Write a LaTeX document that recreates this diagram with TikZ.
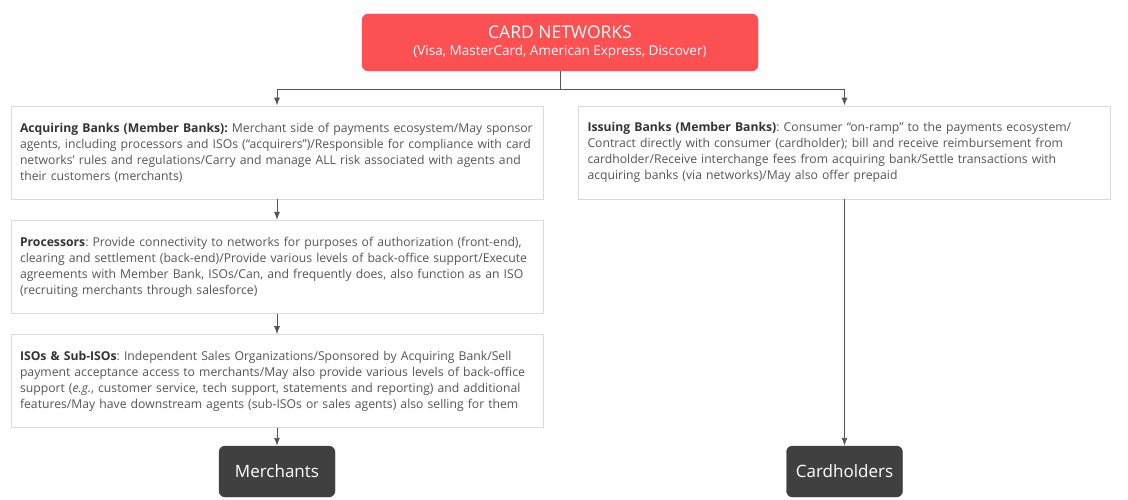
\documentclass[tikz,border=0pt]{standalone}
\usepackage{fontspec}
\setmainfont{Open Sans}
\usepackage{xcolor}
\usetikzlibrary{arrows.meta,positioning,calc}
\frenchspacing

\definecolor{netred}{HTML}{FC5053}
\definecolor{endgray}{HTML}{404040}
\definecolor{rimgray}{HTML}{DADADA}
\definecolor{bodytext}{HTML}{555555}
\definecolor{headtext}{HTML}{333333}
\definecolor{wire}{HTML}{555555}

\begin{document}
\begin{tikzpicture}[
  x=1pt, y=1pt,
  netbox/.style={draw=netred, fill=netred, rounded corners=6pt,
                 minimum width=396pt, minimum height=57pt,
                 text=white, align=center},
  infobox/.style={draw=rimgray, fill=white, line width=0.8pt,
                  minimum width=532pt, minimum height=93pt,
                  text width=514pt, inner xsep=9pt, align=left,
                  text=bodytext, font=\fontsize{12.2}{16}\selectfont},
  endbox/.style={draw=endgray, fill=endgray, rounded corners=6pt,
                 minimum width=116pt, minimum height=51pt,
                 text=white, font=\fontsize{17}{20}\selectfont},
  link/.style={draw=wire, line width=0.9pt},
  >={Latex[length=8pt,width=6pt]}, node distance=20.5pt
]
\useasboundingbox (0,0) rectangle (1128,-500);

\node[netbox] (networks) at (560,-42.5)
  {{\fontsize{17.5}{20}\selectfont CARD NETWORKS}\\[5pt]
   {\fontsize{13.5}{15}\selectfont (Visa, MasterCard, American Express, Discover)}};

\node[infobox] (acquiring) at (277,-152.5)
  {{\bfseries\color{headtext}Acquiring Banks (Member Banks):} Merchant side of payments ecosystem/May sponsor\\
   agents, including processors and ISOs (“acquirers”)/Responsible for compliance with card\\
   networks’ rules and regulations/Carry and manage ALL risk associated with agents and\\
   their customers (merchants)};
\node[infobox] (processors) [below=of acquiring]
  {{\bfseries\color{headtext}Processors}: Provide connectivity to networks for purposes of authorization (front-end),\\
   clearing and settlement (back-end)/Provide various levels of back-office support/Execute\\
   agreements with Member Bank, ISOs/Can, and frequently does, also function as an ISO\\
   (recruiting merchants through salesforce)};
\node[infobox] (isos) [below=of processors]
  {{\bfseries\color{headtext}ISOs \& Sub-ISOs}: Independent Sales Organizations/Sponsored by Acquiring Bank/Sell\\
   payment acceptance access to merchants/May also provide various levels of back-office\\
   support (\textit{e.g.}, customer service, tech support, statements and reporting) and additional\\
   features/May have downstream agents (sub-ISOs or sales agents) also selling for them};
\node[endbox] (merchants) at (277,-471.5) {Merchants};

\node[infobox] (issuing) at (844.5,-152.5)
  {{\bfseries\color{headtext}Issuing Banks (Member Banks)}: Consumer “on-ramp” to the payments ecosystem/\\
   Contract directly with consumer (cardholder); bill and receive reimbursement from\\
   cardholder/Receive interchange fees from acquiring bank/Settle transactions with\\
   acquiring banks (via networks)/May also offer prepaid};
\node[endbox] (cardholders) at (844.5,-471.5) {Cardholders};

\coordinate (split) at ($(networks.south)+(0,-18)$);
\draw[link] (networks.south) -- (split);
\draw[link, ->] (split) -| (acquiring.north);
\draw[link, ->] (split) -| (issuing.north);
\draw[link, ->] (acquiring) -- (processors);
\draw[link, ->] (processors) -- (isos);
\draw[link, ->] (isos) -- (merchants);
\draw[link, ->] (issuing) -- (cardholders);
\end{tikzpicture}
\end{document}
